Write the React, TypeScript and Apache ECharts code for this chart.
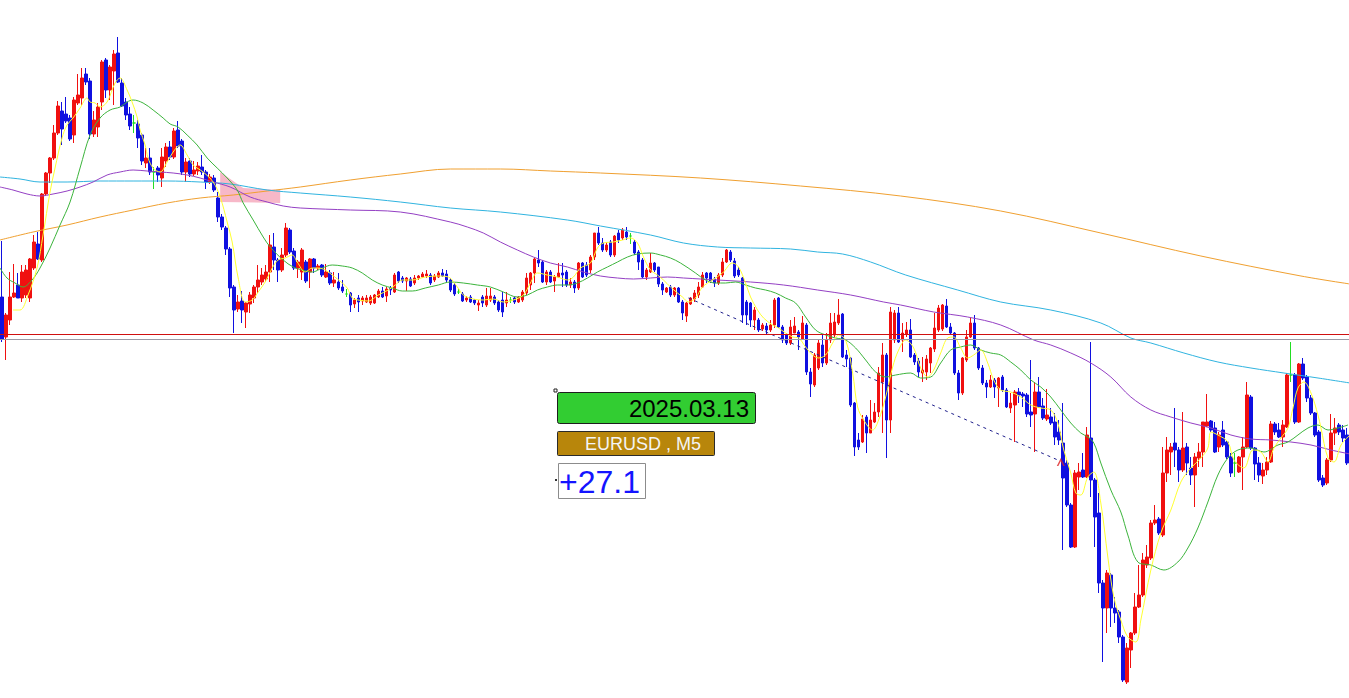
import React, { useEffect, useRef } from "react";
import * as echarts from "echarts";

// EURUSD M5 — prices in points above 1.08000 (1 point = 0.00001)
const OPEN = [
  403,363,380,403,415,402,405,402,432,456,
  440,506,527,542,567,589,586,582,565,597,
  602,626,619,566,573,598,640,610,629,647,
  617,598,586,577,576,565,537,542,528,532,
  522,539,553,543,570,559,528,539,526,529,
  533,528,518,522,502,483,472,451,413,391,
  399,388,396,402,413,418,421,428,453,440,
  430,445,470,449,432,428,438,428,441,432,
  435,423,427,417,418,413,406,407,396,402,
  399,398,397,397,403,409,404,412,408,428,
  422,419,421,417,422,423,424,425,420,423,
  427,426,420,415,408,406,400,403,400,395,
  403,395,400,403,398,400,397,400,402,398,
  400,407,415,427,440,438,418,428,419,423,
  427,428,415,418,412,437,435,430,443,467,
  457,450,458,445,467,462,468,464,458,448,
  440,423,428,437,433,416,408,413,405,412,
  398,384,396,401,405,413,427,427,421,417,
  425,438,448,439,430,422,398,397,380,380,
  371,374,370,375,402,373,365,357,367,368,
  361,375,328,315,332,355,337,360,365,377,
  386,345,342,297,260,258,283,267,278,288,
  318,345,280,360,387,360,366,370,345,339,
  327,328,337,351,370,371,394,373,367,327,
  307,340,363,377,352,332,317,313,320,312,
  323,310,292,295,308,306,305,288,286,308,
  294,281,283,278,268,257,237,195,153,223,
  230,223,262,220,187,117,92,125,92,88,
  63,18,50,67,93,105,135,142,177,181,
  165,227,248,257,250,230,253,232,225,242,
  248,274,279,272,253,270,258,243,237,228,
  243,253,303,252,237,224,230,238,276,270,
  263,273,325,325,278,336,323,302,287,268,
  222,217,240,267,275,270,265,
];
const CLOSE = [
  361,385,403,407,402,428,430,441,458,441,
  506,527,542,567,594,571,579,561,600,605,
  622,618,566,580,593,638,610,633,646,618,
  594,585,574,577,562,539,542,528,528,525,
  543,553,543,569,554,528,538,526,530,534,
  528,518,523,510,483,473,451,412,390,398,
  390,397,405,413,420,425,428,455,440,430,
  445,472,448,432,438,450,419,441,432,434,
  425,428,417,420,412,409,406,395,400,398,
  402,402,403,405,409,403,411,410,425,419,
  419,422,414,422,424,426,426,417,424,427,
  424,420,410,406,408,399,402,398,397,397,
  397,404,404,397,390,388,400,400,398,403,
  408,422,427,441,437,418,428,418,423,427,
  425,415,418,412,437,423,425,443,467,457,
  450,455,445,464,460,470,463,464,447,438,
  423,430,437,430,416,410,412,405,412,398,
  387,397,402,407,413,425,422,419,417,425,
  438,450,440,424,425,385,385,380,390,370,
  375,370,375,400,373,360,357,373,374,363,
  377,328,316,345,357,337,360,377,378,385,
  343,341,295,253,253,281,267,280,288,327,
  345,280,388,387,358,367,370,343,338,328,
  330,341,352,372,392,395,373,367,327,307,
  342,363,377,352,332,317,313,320,313,322,
  310,293,297,308,305,304,286,285,308,293,
  282,285,277,263,260,222,195,153,227,228,
  223,265,220,183,117,92,127,92,87,63,
  20,52,67,93,105,140,143,177,180,167,
  227,250,253,250,230,252,237,225,243,248,
  278,278,270,248,265,255,243,227,237,243,
  253,305,252,236,225,230,238,276,268,263,
  275,325,325,278,336,322,302,287,265,220,
  215,240,267,272,268,262,237,
];
const LOW = [
  358,340,375,402,402,398,402,398,430,440,
  438,504,517,540,565,555,577,559,557,595,
  595,615,561,563,563,590,602,600,595,617,
  593,580,570,567,552,535,532,525,511,518,
  513,533,540,541,552,525,518,523,524,525,
  525,511,516,508,478,470,445,403,367,388,
  377,372,387,397,407,415,418,418,430,418,
  428,443,446,430,422,420,417,412,427,430,
  423,422,415,413,410,407,403,388,392,388,
  395,397,395,396,402,402,398,405,407,417,
  417,409,413,415,420,422,422,415,418,422,
  423,418,408,404,406,398,398,397,395,389,
  393,393,398,395,388,383,393,397,396,397,
  398,405,410,417,433,417,415,417,408,422,
  413,413,412,407,410,422,423,427,440,455,
  448,448,443,443,457,460,460,456,445,430,
  422,420,427,428,413,405,407,403,403,397,
  380,378,395,398,402,412,417,417,413,415,
  423,437,438,422,423,377,375,373,370,368,
  369,365,368,372,372,357,355,355,367,350,
  360,325,303,313,330,333,335,357,363,375,
  342,333,293,244,250,257,247,267,277,283,
  267,242,267,357,357,348,363,342,335,323,
  318,320,327,348,368,369,372,365,325,300,
  305,338,362,350,330,315,302,312,302,293,
  308,292,287,258,297,293,283,273,248,292,
  280,279,275,255,255,150,193,152,152,210,
  222,222,203,153,107,38,67,73,77,57,
  18,16,32,65,92,103,132,140,175,165,
  163,218,225,233,218,228,225,215,193,233,
  233,273,268,247,248,253,241,223,223,227,
  210,252,250,220,218,216,225,237,265,262,
  253,272,318,276,277,320,298,285,263,218,
  213,215,238,255,265,258,235,
];
const HIGH = [
  459,387,428,436,427,435,435,442,465,468,
  507,528,543,575,599,598,603,585,603,626,
  632,632,622,589,597,640,642,635,650,663,
  622,602,593,585,580,567,552,552,533,534,
  552,557,559,572,579,561,542,542,539,538,
  545,530,526,525,508,486,474,453,415,405,
  409,398,408,415,435,432,435,465,467,442,
  452,477,472,452,440,452,440,442,442,436,
  436,436,430,428,427,420,411,408,402,405,
  404,405,405,406,411,413,413,414,427,429,
  424,423,423,425,425,428,430,427,426,429,
  431,430,422,417,411,408,404,405,401,400,
  405,412,412,405,400,408,408,403,403,404,
  410,427,428,442,450,440,430,430,425,437,
  437,430,422,420,438,438,438,445,467,473,
  462,458,460,465,470,472,473,467,460,450,
  442,432,447,438,433,418,413,415,413,413,
  400,398,403,410,418,428,428,428,423,427,
  442,451,450,442,433,423,400,398,393,382,
  377,377,380,402,403,375,367,380,383,370,
  384,377,332,347,360,365,367,387,387,401,
  387,350,343,298,267,285,285,300,297,333,
  357,347,393,390,393,377,378,381,347,342,
  343,345,353,387,395,396,401,377,368,330,
  343,370,382,385,353,335,320,325,322,323,
  325,312,307,310,312,308,307,340,318,323,
  302,311,292,287,280,297,240,197,230,237,
  247,273,358,222,207,120,130,127,103,90,
  65,57,68,107,135,147,155,180,195,183,
  253,263,257,292,253,288,257,243,247,257,
  278,306,280,278,268,279,259,247,247,244,
  263,318,305,253,243,237,243,279,278,277,
  280,327,358,327,337,342,325,305,288,270,
  225,242,286,282,277,275,272,
];

// Moving averages: [bar index, points]
const MA_YELLOW = [
  [2.75,390],[4.5,390],[6.5,405],[8.75,432],[10.25,465],[12,508],[13.25,532],[15,562],[16.25,575],[17.75,582],
  [19.5,592],[21.25,602],[22,598],[23.25,597],[24.5,593],[26.25,598],[28.25,617],[29.5,622],[31.25,610],[32.5,598],
  [33.75,583],[34.5,570],[35.75,555],[36.5,542],[37.75,532],[39.5,528],[41.25,538],[42.75,548],[44.5,555],[46.25,545],
  [47.75,535],[50.25,528],[52.75,518],[54.5,503],[56.25,478],[57.5,458],[59,422],[60.75,398],[62.5,400],[64,408],
  [65.75,418],[67.5,432],[69,440],[70.75,442],[72.5,445],[73.75,438],[75.75,428],[77.5,432],[79,432],[80.75,430],
  [82.5,425],[85,417],[86.25,412],[87.5,402],[89,400],[91.5,399],[94,405],[96.5,410],[98.25,415],[100,420],
  [102.5,420],[105.75,423],[109,424],[111.5,423],[113.75,413],[115.25,405],[117.75,401],[120.25,400],[122.75,401],[125.25,398],
  [127.75,400],[130.25,405],[132,417],[133.75,427],[136.25,425],[138.75,423],[141.25,420],[142.75,423],[144.5,432],[147,437],
  [148.75,452],[150.25,457],[152.75,458],[155,460],[157,462],[158.75,457],[160.25,443],[162,430],[163.75,425],[165.25,420],
  [167,413],[168.75,407],[170,403],[171.5,398],[173.25,402],[175,413],[177.5,420],[180,427],[182.5,437],[184,433],
  [185.75,417],[187,403],[188.75,390],[190.25,382],[192.5,375],[194,372],[195.75,367],[197.5,363],[199,362],[200.75,353],
  [202.5,345],[204,342],[205.75,345],[207.5,357],[209,365],[210.75,360],[212.5,327],[213.75,293],[215.25,280],[217.5,270],
  [219,280],[220.75,303],[222.5,333],[224,350],[225.75,360],[227.75,352],[229.5,332],[231.25,323],[232.75,330],[234.5,347],
  [236.25,362],[237.75,363],[239.5,352],[241.25,342],[242.75,345],[244.5,350],[246.25,337],[247.75,320],[249.5,310],[252,308],
  [254.5,303],[257,295],[259.5,292],[262,290],[263.75,277],[265.25,250],[267,227],[268.25,207],[269.5,205],[271.25,223],
  [272.75,228],[274.5,197],[276.25,143],[277.75,103],[279.5,80],[281.25,63],[283.25,58],[284.5,80],[287,130],[289.5,167],
  [292,190],[294.5,218],[297,232],[299.5,242],[301.25,252],[302,268],[303.75,265],[306.25,258],[307.75,240],[310.25,232],
  [312.5,250],[314.5,248],[316.25,238],[317.75,252],[319.5,262],[321.25,272],[322.5,292],[323.75,312],[325.25,318],[327,307],
  [328.75,285],[329.5,272],[331.25,242],[332.75,238],[334.5,255],[336.75,265],
];
const MA_GREEN = [
  [-0.5,432],[1.25,422],[3.25,417],[5.25,413],[7.5,420],[9.5,432],[12,452],[14.5,475],[17,498],[19.5,532],
  [22,565],[24.5,582],[27,590],[29.5,593],[31.25,598],[32.75,600],[35.25,597],[37.75,590],[40.25,582],[42,576],
  [44,573],[46.25,565],[48.75,555],[51.25,542],[53.75,532],[56.25,522],[58.75,510],[60.25,497],[62.75,480],[65.25,463],
  [67,453],[70.25,440],[72.75,433],[75,430],[77.5,428],[80,432],[82.5,435],[85,434],[87.5,432],[90,427],
  [92.5,420],[95,415],[97.5,412],[100,409],[102.5,409],[105.75,412],[109,415],[112,418],[115.25,417],[118.75,415],
  [122,413],[125.25,408],[128.75,403],[131.25,405],[133.75,410],[136.25,413],[138.75,415],[141.25,415],[143.75,417],[146.25,422],
  [148.75,428],[151.25,433],[153.75,438],[156.25,443],[158.75,446],[162,447],[164.5,445],[167,442],[169.5,437],[173.25,427],
  [175.75,420],[178.25,417],[180.75,417],[183.25,418],[185.75,415],[188.25,412],[190.75,410],[193.25,407],[195.75,402],[198.25,397],
  [200.75,383],[203.25,370],[205.75,365],[208.25,362],[210.75,360],[213.25,352],[215.75,340],[218.25,328],[220.75,323],[223.25,325],
  [227,327],[229.5,322],[232,323],[234.5,337],[237,350],[239.5,353],[242,355],[244.5,350],[247,347],[249.5,345],
  [252,338],[254.5,330],[257,320],[259.5,313],[262,303],[264.5,290],[267,277],[269.5,267],[271.25,263],[272.75,257],
  [274.5,237],[277,210],[279.5,188],[281.25,165],[283.75,138],[287,135],[290.25,130],[293.75,138],[296.25,152],[298.75,172],
  [301.25,198],[303.75,225],[306.25,242],[308.75,250],[312,252],[315.25,248],[318.75,255],[321.25,258],[323.75,265],[326.25,272],
  [328.75,275],[331.25,270],[333.75,272],[336.25,275],
];
const MA_PURPLE = [
  [-0.5,513],[2.75,510],[6.25,506],[9.5,504],[12.75,506],[16.25,509],[19.5,513],[22.75,518],[26.25,525],[29.5,528],
  [32.75,530],[36.25,529],[39.5,528],[42.75,527],[46.25,525],[49.5,522],[52.75,518],[57,513],[62,503],[66.25,498],
  [70.25,494],[74.5,492],[87,490],[99.5,488],[112,478],[116.25,473],[120.25,467],[124.5,458],[128.75,450],[132.75,443],
  [137,437],[141.25,433],[145.25,428],[149.5,424],[153.75,422],[157.75,421],[162,422],[166.25,423],[170.25,422],[178.75,420],
  [187,418],[195.25,415],[203.75,410],[212,405],[220.25,398],[224.5,395],[232.75,388],[241.25,383],[249.5,375],[257.75,360],
  [262,355],[267,347],[272,337],[277,323],[282,303],[287,290],[292,283],[297,277],[302,272],[307,265],
  [312,261],[317,260],[322,258],[327,255],[332,250],[336.75,246],
];
const MA_CYAN = [
  [-0.5,523],[4.5,521],[9.5,518],[16.25,518],[24.5,519],[32.75,519],[41.25,519],[49.5,518],[57,516],[66.25,510],
  [74.5,507],[87,503],[99.5,498],[112,492],[124.5,488],[141.25,480],[149.5,474],[162,465],[170.25,457],[178.75,453],
  [187,452],[197,451],[203.75,448],[210,446],[217,438],[225.75,425],[238.75,410],[249.5,398],[262,390],[274.5,377],
  [282,362],[287,357],[295.25,347],[303.75,338],[312,332],[320.25,327],[328.75,322],[336.75,317],
];
const MA_ORANGE = [
  [-0.5,460],[7.75,468],[16.25,475],[24.5,483],[32.75,490],[41.25,497],[49.5,502],[57.75,505],[66.25,509],[74.5,513],
  [87,520],[99.5,526],[112,531],[124.5,531],[137,529],[149.5,527],[174.5,522],[199.5,514],[224.5,504],[249.5,489],
  [274.5,467],[299.5,444],[324.5,424],[336.75,416],
];

const LEVEL_RED = 366;
const LEVEL_GREY = 361;
const TREND_LINE = [[171.5, 402], [263.75, 240]];
const TREND_END = [[264.5, 238]];
const PINK_ZONE = [[54.5, 528], [60.25, 512], [69.5, 510], [69.5, 497], [54.5, 498]];

const DATE_LABEL = "2025.03.13";
const SYMBOL_LABEL = "EURUSD , M5";
const PROFIT_LABEL = "+27.1";

const CATEGORIES = OPEN.map((_, i) => String(i));

const BULL = "#f01010";
const BEAR = "#1010e0";
const DOJI = "#22dd22";
const FONT = '"Liberation Sans", Arial, sans-serif';

function maSeries(data: number[][], color: string, z: number) {
  return {
    type: "line",
    xAxisIndex: 1,
    yAxisIndex: 0,
    data,
    showSymbol: false,
    symbol: "none",
    smooth: 0.35,
    silent: true,
    z,
    lineStyle: { color, width: 1 },
  };
}

export default function App() {
  const ref = useRef<HTMLDivElement>(null);
  useEffect(() => {
    if (!ref.current) return;
    const chart = echarts.init(ref.current, null, { renderer: "svg" });
    const candles = OPEN.map((o, i) => {
      const v = [o, CLOSE[i], LOW[i], HIGH[i]];
      if (o === CLOSE[i]) {
        return {
          value: v,
          itemStyle: { color: DOJI, color0: DOJI, borderColor: DOJI, borderColor0: DOJI, borderColorDoji: DOJI },
        };
      }
      return { value: v };
    });
    const option: any = {
      animation: false,
      backgroundColor: "#ffffff",
      grid: { left: 0, right: 0, top: 0, bottom: 0 },
      xAxis: [
        { type: "category", data: CATEGORIES, show: false, boundaryGap: true },
        { type: "value", min: -0.5, max: CATEGORIES.length - 0.5, show: false },
      ],
      yAxis: { type: "value", min: 2, max: 700, show: false },
      series: [
        {
          type: "custom",
          xAxisIndex: 1,
          yAxisIndex: 0,
          silent: true,
          z: 1,
          data: [PINK_ZONE[0]],
          renderItem: (_p: any, api: any) => ({
            type: "polygon",
            shape: { points: PINK_ZONE.map((pt) => api.coord(pt)) },
            style: { fill: "#f7b8c8" },
          }),
        },
        {
          type: "candlestick",
          xAxisIndex: 0,
          yAxisIndex: 0,
          data: candles,
          barWidth: 3,
          silent: true,
          z: 2,
          itemStyle: {
            color: BULL,
            color0: BEAR,
            borderColor: BULL,
            borderColor0: BEAR,
            borderWidth: 1,
          },
          markLine: {
            silent: true,
            symbol: "none",
            label: { show: false },
            z: 6,
            data: [
              { yAxis: LEVEL_RED, lineStyle: { color: "#d01010", width: 1, type: "solid" } },
              { yAxis: LEVEL_GREY, lineStyle: { color: "#9a9aa6", width: 1, type: "solid" } },
            ],
          },
        },
        maSeries(MA_ORANGE, "#f0a030", 3),
        maSeries(MA_CYAN, "#30b4e0", 3),
        maSeries(MA_PURPLE, "#9440c4", 3),
        maSeries(MA_GREEN, "#3cb43c", 4),
        maSeries(MA_YELLOW, "#ffff30", 5),
        {
          type: "line",
          xAxisIndex: 1,
          yAxisIndex: 0,
          data: TREND_LINE,
          showSymbol: false,
          symbol: "none",
          silent: true,
          z: 5,
          lineStyle: { color: "#20208c", width: 1, type: [3, 4] },
        },
        {
          type: "scatter",
          xAxisIndex: 1,
          yAxisIndex: 0,
          data: TREND_END,
          silent: true,
          z: 6,
          symbol: "path://M0,10 L5,0 L10,10 L8,10 L5,4 L2,10 Z",
          symbolSize: [8, 8],
          itemStyle: { color: "#dd2222" },
        },
      ],
      graphic: [
        { type: "rect", z: 100, shape: { x: 554, y: 389, width: 3, height: 3 }, style: { fill: "none", stroke: "#222", lineWidth: 1 } },
        { type: "rect", z: 100, shape: { x: 557.5, y: 392.5, width: 198, height: 31, r: 2 }, style: { fill: "#32cd32", stroke: "#1e1e1e", lineWidth: 1 } },
        { type: "text", z: 101, x: 749, y: 408, style: { text: DATE_LABEL, font: `24px ${FONT}`, fill: "#000", align: "right", verticalAlign: "middle" } },
        { type: "rect", z: 100, shape: { x: 557.5, y: 431.5, width: 157, height: 24, r: 1 }, style: { fill: "#b8860b", stroke: "#2a2a2a", lineWidth: 1 } },
        { type: "text", z: 101, x: 585, y: 444, style: { text: SYMBOL_LABEL, font: `18px ${FONT}`, fill: "#f4f4f4", verticalAlign: "middle" } },
        { type: "rect", z: 100, shape: { x: 558.5, y: 463.5, width: 87, height: 35 }, style: { fill: "#ffffff", stroke: "#8c8c8c", lineWidth: 1 } },
        { type: "text", z: 101, x: 559, y: 482, style: { text: PROFIT_LABEL, font: `32px ${FONT}`, fill: "#1414ff", verticalAlign: "middle" } },
        { type: "rect", z: 100, shape: { x: 555, y: 479, width: 2, height: 2 }, style: { fill: "#333" } },
      ],
    };
    chart.setOption(option);
    return () => chart.dispose();
  }, []);
  return (
    <div
      ref={ref}
      style={{ position: "fixed", left: 0, top: 0, width: 1349, height: 698, background: "#fff" }}
    />
  );
}
